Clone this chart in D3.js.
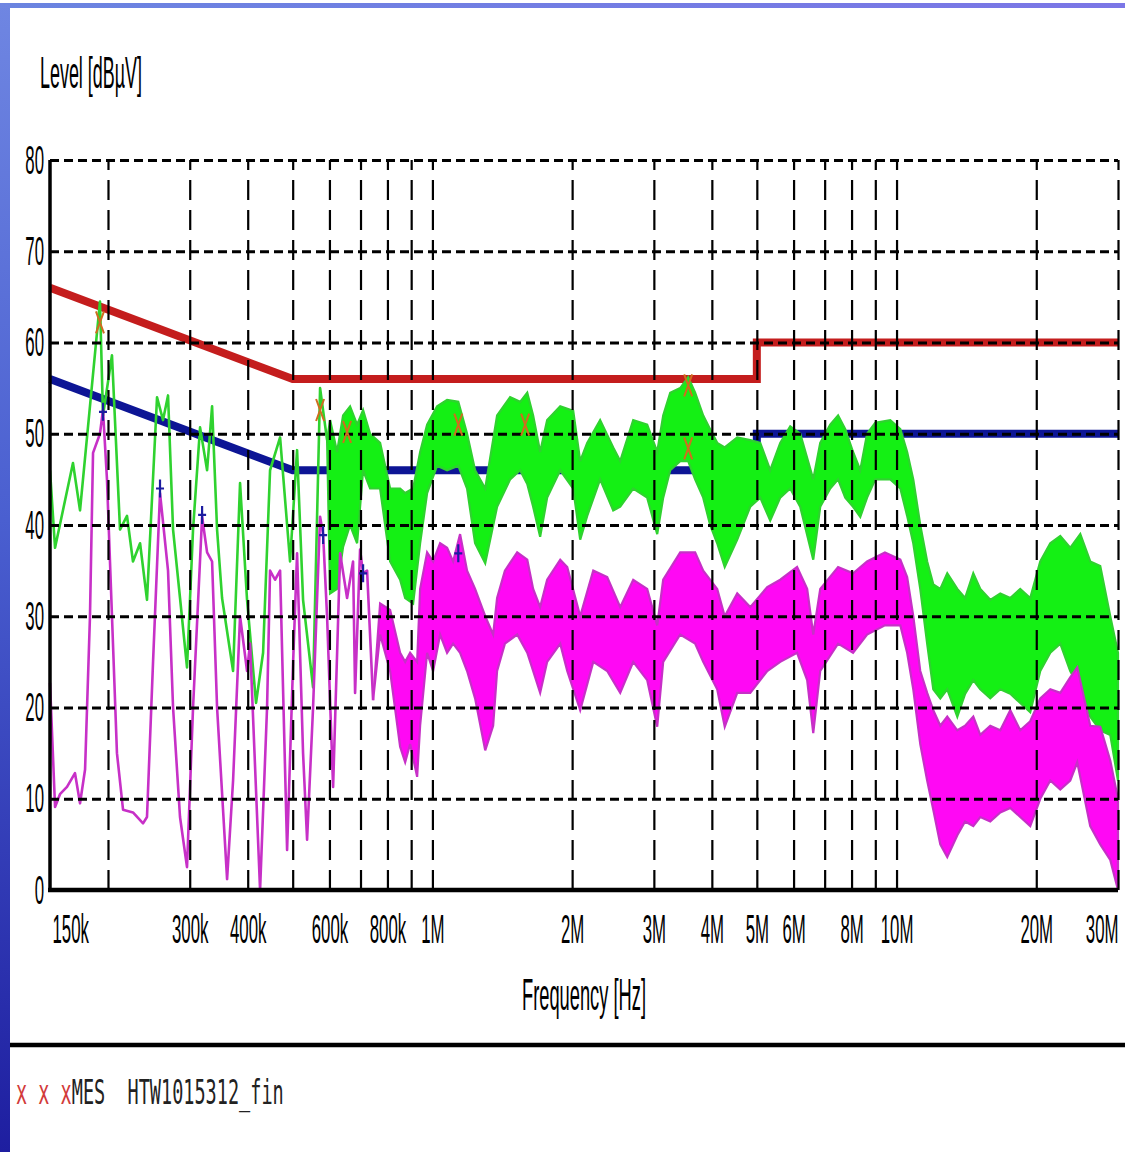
<!DOCTYPE html>
<html>
<head>
<meta charset="utf-8">
<script src="https://cdn.jsdelivr.net/npm/d3@7"></script>
<style>
  body { margin: 0; background: #fff; }
  svg { display: block; }
</style>
</head>
<body>
<div class="emi"></div>
<script>
// limit lines (class B, quasi-peak red / average blue), frequency in MHz
var limitF = [0.15, 0.5, 5, 5, 30]
var qpLimit = [66, 56, 56, 60, 60]
var avLimit = [56, 46, 46, 50, 50]

// peak scan (green) - single line at the low end
var peakLineF = [0.150, 0.1538, 0.1681, 0.1741, 0.1922, 0.1951, 0.2040, 0.2123, 0.2198, 0.2264, 0.2345, 0.2427,
    0.2551, 0.2628, 0.2694, 0.2762, 0.2859, 0.2960, 0.3050, 0.3158, 0.3270, 0.3352, 0.3436, 0.3522, 0.3720,
    0.3851, 0.3987, 0.4169, 0.4317, 0.4469, 0.4697, 0.4935, 0.5110, 0.5264, 0.5532, 0.5728, 0.5930]
var peakLine = [46, 37.5, 46.8, 41.6, 64.5, 52, 58.6, 39.5, 41, 36, 38, 31.8,
    54, 51.5, 54.2, 39.5, 32, 24.4, 39.5, 50.7, 46, 53, 39.5, 32, 24,
    44.6, 31.8, 20.5, 26, 46, 49.6, 36, 48.2, 31.8, 22.2, 55, 49.3]

// peak scan (green) - dense part, upper / lower envelope
var peakBandF = [0.5930, 0.6020, 0.6232, 0.6420, 0.6647, 0.6883, 0.7090, 0.7341, 0.7715, 0.8107, 0.8520, 0.8736,
    0.9088, 0.9409, 0.9741, 1.0236, 1.0756, 1.1370, 1.1877, 1.2358, 1.2995, 1.3784, 1.4705, 1.5453, 1.6008,
    1.6483, 1.7066, 1.7670, 1.8853, 2.0108, 2.0817, 2.1552, 2.2980, 2.4522, 2.5388, 2.7081, 2.9022, 3.0503,
    3.1422, 3.2535, 3.4190, 3.5571, 3.6815, 3.8322, 3.9658, 4.1076, 4.2640, 4.5368, 4.8392, 5.0852, 5.3436,
    5.6156, 5.9006, 6.2004, 6.6149, 6.8484, 7.1958, 7.4828, 7.7535, 8.0600, 8.3526, 8.6400, 8.9984, 9.6933,
    10.189, 10.54, 10.865, 11.248, 11.64, 11.999, 12.424, 12.86, 13.518, 14.05, 14.633, 15.15, 15.92, 16.73,
    17.58, 18.47, 19.41, 20.40, 21.44, 22.53, 23.67, 24.88, 26.14, 27.47, 28.87, 30.0]
var peakHi = [49.3, 51.5, 48, 52, 53, 51, 52.6, 50, 49, 44, 44, 43.5,
    44, 48, 51, 53, 53.7, 53.5, 50, 46, 44, 52, 54, 53.5, 54.5,
    52, 48, 51.5, 53, 52.5, 47, 49, 51.5, 48.5, 47, 51.5, 51, 48,
    52, 54.5, 55, 56.2, 54.5, 52, 50.5, 49, 48.5, 49.6, 49.3, 49, 46,
    49, 50.8, 50, 45, 49, 51, 52, 50.5, 48, 46, 50, 51.2, 51.5,
    50.5, 48, 45, 40, 36, 33.5, 33, 34.7, 33, 32, 34.7, 33, 31.8, 32.5,
    32, 33, 32, 36, 38, 38.8, 37.5, 39, 36, 35.5, 30, 26]
var peakLo = [49.3, 32.5, 33, 37.6, 40, 38, 46, 44, 44, 36, 34, 32,
    31.4, 38, 43.5, 46.5, 46, 46.5, 44, 38, 35.8, 42, 45, 46, 44.5,
    42, 38.7, 43, 46, 44, 38.4, 41, 45, 41.6, 42, 44, 43, 39,
    43, 46, 47, 47, 45, 43, 40, 38, 35.4, 38.4, 42, 43, 40.5,
    43, 44, 42, 36.2, 42, 44, 45, 43, 42, 40.9, 43, 45, 45,
    44, 41, 38, 33, 27, 22, 21, 22, 19, 21.5, 23, 22, 21, 22,
    21.5, 20.5, 19.5, 24, 26, 27, 24, 22, 19, 17.5, 17, 12]

// average scan (magenta) - single line at the low end
var avgLineF = [0.150, 0.1538, 0.1576, 0.1632, 0.1698, 0.1741, 0.1785, 0.1829, 0.1857, 0.1922, 0.1951, 0.1990,
    0.2040, 0.2091, 0.2155, 0.2264, 0.2380, 0.2427, 0.2501, 0.2589, 0.2694, 0.2762, 0.2859, 0.2960, 0.3050,
    0.3190, 0.3270, 0.3352, 0.3436, 0.3611, 0.3720, 0.3851, 0.3987, 0.4047, 0.4253, 0.4403, 0.4469, 0.4581,
    0.4697, 0.4863, 0.5011, 0.5110, 0.5264, 0.5370, 0.5532, 0.5728, 0.5814, 0.5930, 0.6110, 0.6326, 0.6549,
    0.6746, 0.6814, 0.6985, 0.7090, 0.7232, 0.7451]
var avgLine = [22.7, 9.1, 10.5, 11.3, 12.8, 9.5, 13.2, 30, 47.9, 50, 52.6, 45,
    30, 15, 8.8, 8.5, 7.3, 8, 25, 43.5, 35, 20, 8, 2.5, 20,
    40.9, 37, 36, 20, 1.2, 12, 30, 24, 27, 0, 20, 35, 34,
    35, 4.4, 25, 36.9, 15, 5.5, 20, 40.9, 39, 30, 11.3, 36.9, 32,
    36, 21.6, 37.3, 34.7, 35, 20.8]

// average scan (magenta) - dense part, upper / lower envelope
var avgBandF = [0.7451, 0.7715, 0.8107, 0.8520, 0.8736, 0.8953, 0.9270, 0.9409, 0.9741, 1.0035, 1.0389, 1.0756,
    1.1081, 1.1472, 1.1877, 1.2358, 1.2995, 1.3516, 1.3784, 1.4328, 1.5228, 1.6008, 1.6483, 1.7066, 1.7670,
    1.8853, 1.9520, 2.0817, 2.2212, 2.3800, 2.5388, 2.7081, 2.9022, 3.0503, 3.1422, 3.4190, 3.6815, 3.8322,
    4.1076, 4.2640, 4.5368, 4.8392, 5.2650, 5.6156, 6.1050, 6.4183, 6.6149, 6.8484, 7.4828, 8.0600, 8.6400,
    9.4400, 10.189, 10.54, 10.865, 11.248, 11.64, 11.999, 12.424, 12.86, 13.518, 14.05, 14.633, 15.15, 15.92,
    16.73, 17.58, 18.47, 19.41, 20.40, 21.44, 22.53, 23.67, 24.51, 26.14, 27.47, 28.87, 30.0]
var avgHi = [20.8, 31.4, 30.7, 26, 25, 26, 25, 33, 37, 36, 38, 37.5,
    36, 39, 35, 33, 30, 28, 32, 35, 37, 36.2, 33, 31, 34,
    36.2, 35.4, 30, 35, 34.3, 31, 34, 33, 29, 34, 37, 37, 35,
    33, 30, 32.5, 31, 33.2, 34, 35.4, 33, 28, 33, 35.4, 34.7, 36,
    37, 36.2, 34.3, 30, 24, 21.6, 19.7, 18, 19, 17.5, 18, 19, 17, 18,
    17.5, 19.7, 17.5, 18.5, 21, 22, 21.6, 23.3, 24.4, 18, 17.9, 14.2, 10]
var avgLo = [20.8, 28, 24, 15.7, 14, 16, 12.4, 18, 26, 24, 28, 26,
    27, 26, 24, 21, 15.3, 18, 24, 27, 28, 26, 24, 21.6, 25,
    27, 24, 19.7, 25, 24, 21.6, 25, 23, 17.9, 25, 28, 27, 25,
    22, 17.9, 21.6, 21.6, 24, 25, 26, 23, 17.2, 24, 27, 26, 28,
    29, 29, 26, 22, 16, 12, 8.8, 5, 3.6, 6, 7.5, 7, 8, 7.5,
    8.5, 9, 8, 7, 10, 12, 11, 12, 14, 7, 5, 3.3, 0]

// final measurement markers
var qpMarkF = [0.1922, 0.5728, 0.6549, 1.137, 1.584, 3.557, 3.557]
var qpMarkDb = [62.2, 52.6, 50.2, 51.0, 51.0, 55.3, 48.4]
var avMarkF = [0.1951, 0.2589, 0.319, 0.5814, 0.709, 1.137]
var avMarkDb = [52.4, 44.0, 41.1, 38.9, 34.7, 36.9]

// axis ticks
var gridF = [0.2, 0.3, 0.4, 0.5, 0.6, 0.7, 0.8, 0.9, 1, 2, 3, 4, 5, 6, 7, 8, 9, 10, 20, 30]
var labelF = [0.15, 0.3, 0.4, 0.6, 0.8, 1, 2, 3, 4, 5, 6, 8, 10, 20, 30]
var labelText = ["150k", "300k", "400k", "600k", "800k", "1M", "2M", "3M", "4M", "5M", "6M", "8M", "10M", "20M", "30M"]
var levelTicks = [0, 10, 20, 30, 40, 50, 60, 70, 80]


var W = 1125, H = 1152
var plot = { left: 50, right: 1118, top: 160, bottom: 890 }

var svg = d3.select(".emi")
    .append("svg")
    .attr("width", W)
    .attr("height", H)
    .style("font-family", "'Liberation Sans', Arial, sans-serif")

// window frame (blue edges)
var defs = svg.append("defs")
var gLeft = defs.append("linearGradient").attr("id", "edgeLeft")
    .attr("x1", "0%").attr("y1", "0%").attr("x2", "0%").attr("y2", "100%")
gLeft.append("stop").attr("offset", "0%").attr("stop-color", "#6f86e2")
gLeft.append("stop").attr("offset", "45%").attr("stop-color", "#4a5fd0")
gLeft.append("stop").attr("offset", "100%").attr("stop-color", "#1e1ea0")
var gTop = defs.append("linearGradient").attr("id", "edgeTop")
gTop.append("stop").attr("offset", "0%").attr("stop-color", "#6a84e0")
gTop.append("stop").attr("offset", "100%").attr("stop-color", "#7b76e6")

svg.append("rect").attr("x", 0).attr("y", 0).attr("width", W).attr("height", H).attr("fill", "#fff")
svg.append("rect").attr("x", 0).attr("y", 3).attr("width", W).attr("height", 5).attr("fill", "url(#edgeTop)")
svg.append("rect").attr("x", 0).attr("y", 3).attr("width", 10).attr("height", H - 3).attr("fill", "url(#edgeLeft)")

// scales
var x = d3.scaleLog()
    .domain([0.15, 30])
    .range([plot.left, plot.right])
var y = d3.scaleLinear()
    .domain([0, 80])
    .range([plot.bottom, plot.top])

// limit lines
var limitLine = d3.line()
    .x(function (d) { return x(d[0]) })
    .y(function (d) { return y(d[1]) })

svg.append("path")
    .attr("d", limitLine(d3.zip(limitF, avLimit)))
    .attr("fill", "none")
    .attr("stroke", "#0d1595")
    .attr("stroke-width", 8)

svg.append("path")
    .attr("d", limitLine(d3.zip(limitF, qpLimit)))
    .attr("fill", "none")
    .attr("stroke", "#c41d1d")
    .attr("stroke-width", 8)

// traces
var band = d3.area()
    .x(function (d) { return x(d[0]) })
    .y0(function (d) { return y(d[2]) })
    .y1(function (d) { return y(d[1]) })

function drawTrace(lineF, lineV, bandF, hi, lo, fill, stroke) {
    svg.append("path")
        .attr("d", limitLine(d3.zip(lineF, lineV)))
        .attr("fill", "none")
        .attr("stroke", stroke)
        .attr("stroke-width", 2.6)
        .attr("stroke-linejoin", "round")
    svg.append("path")
        .attr("d", band(d3.zip(bandF, hi, lo)))
        .attr("fill", fill)
        .attr("stroke", stroke)
        .attr("stroke-width", 2.2)
        .attr("stroke-linejoin", "miter")
}

drawTrace(peakLineF, peakLine, peakBandF, peakHi, peakLo, "#14f014", "#2fd22f")
drawTrace(avgLineF, avgLine, avgBandF, avgHi, avgLo, "#ff08f4", "#c730c7")

// dashed grid, drawn above the traces
svg.append("g")
    .attr("class", "grid")
    .attr("transform", "translate(0," + plot.bottom + ")")
    .call(d3.axisBottom(x).tickValues(gridF).tickSize(-(plot.bottom - plot.top)).tickFormat(""))
    .call(g => g.select(".domain").remove())
    .call(g => g.selectAll("line")
        .attr("stroke", "#000")
        .attr("stroke-width", 2.2)
        .attr("stroke-dasharray", "20,10"))

svg.append("g")
    .attr("class", "grid")
    .attr("transform", "translate(" + plot.left + ",0)")
    .call(d3.axisLeft(y).tickValues(levelTicks.slice(1)).tickSize(-(plot.right - plot.left)).tickFormat(""))
    .call(g => g.select(".domain").remove())
    .call(g => g.selectAll("line")
        .attr("stroke", "#000")
        .attr("stroke-width", 3)
        .attr("stroke-dasharray", "9,5"))

// markers
svg.append("g").selectAll("path")
    .data(d3.zip(qpMarkF, qpMarkDb))
    .join("path")
    .attr("transform", function (d) { return "translate(" + x(d[0]) + "," + y(d[1]) + ")" })
    .attr("d", "M-4,-11L4,11M4,-11L-4,11")
    .attr("stroke", "#cf6d1f")
    .attr("stroke-width", 2)
    .attr("fill", "none")

svg.append("g").selectAll("path")
    .data(d3.zip(avMarkF, avMarkDb))
    .join("path")
    .attr("transform", function (d) { return "translate(" + x(d[0]) + "," + y(d[1]) + ")" })
    .attr("d", "M0,-9V9M-4,0H4")
    .attr("stroke", "#1c1ca0")
    .attr("stroke-width", 2.2)
    .attr("fill", "none")

// axes with labels (narrow, tall lettering)
var sx = 0.42
var xAxis = svg.append("g")
    .attr("transform", "translate(0," + plot.bottom + ")")
    .call(d3.axisBottom(x).tickValues(labelF).tickSize(0).tickSizeOuter(0)
        .tickFormat(function (d, i) { return labelText[i] }))
xAxis.select(".domain").attr("stroke", "#000").attr("stroke-width", 4.5)
    .attr("d", "M" + (plot.left - 2) + ",0H" + plot.right)
xAxis.selectAll("text")
    .attr("y", 53)
    .attr("dy", 0)
    .attr("font-size", 40)
    .attr("fill", "#000")
    .attr("transform", "scale(" + sx + ",1)")
    .attr("text-anchor", function (d, i) { return i == 0 ? "start" : (i == labelF.length - 1 ? "end" : "middle") })
    .attr("x", function (d, i) { return i == 0 ? 2 / sx : 0 })

var yAxis = svg.append("g")
    .attr("transform", "translate(" + plot.left + ",0)")
    .call(d3.axisLeft(y).tickValues(levelTicks).tickSize(0).tickSizeOuter(0))
yAxis.select(".domain").attr("stroke", "#000").attr("stroke-width", 3.5)
    .attr("d", "M0," + plot.top + "V" + (plot.bottom + 2))
yAxis.selectAll("text")
    .attr("x", -6 / sx)
    .attr("y", 13)
    .attr("dy", 0)
    .attr("font-size", 40)
    .attr("fill", "#000")
    .attr("transform", "scale(" + sx + ",1)")

// axis titles
svg.append("text")
    .attr("x", 40)
    .attr("y", 88)
    .attr("font-size", 44)
    .attr("textLength", 102)
    .attr("lengthAdjust", "spacingAndGlyphs")
    .text("Level [dBµV]")

svg.append("text")
    .attr("x", 522)
    .attr("y", 1010)
    .attr("font-size", 44)
    .attr("textLength", 124)
    .attr("lengthAdjust", "spacingAndGlyphs")
    .text("Frequency [Hz]")

// footer
svg.append("line")
    .attr("x1", 10).attr("x2", W)
    .attr("y1", 1045).attr("y2", 1045)
    .attr("stroke", "#000")
    .attr("stroke-width", 4.5)

// 24 monospace characters squeezed into ~267px
var footer = svg.append("g")
    .attr("transform", "translate(16,1104) scale(0.545,1)")
    .append("text")
    .attr("font-family", "'DejaVu Sans Mono', monospace")
    .attr("font-size", 34)
    .attr("xml:space", "preserve")
    .style("white-space", "pre")
footer.append("tspan").attr("fill", "#d23a3a").text("x x x")
footer.append("tspan").attr("fill", "#222").text("MES  HTW1015312_fin")
</script>
</body>
</html>
